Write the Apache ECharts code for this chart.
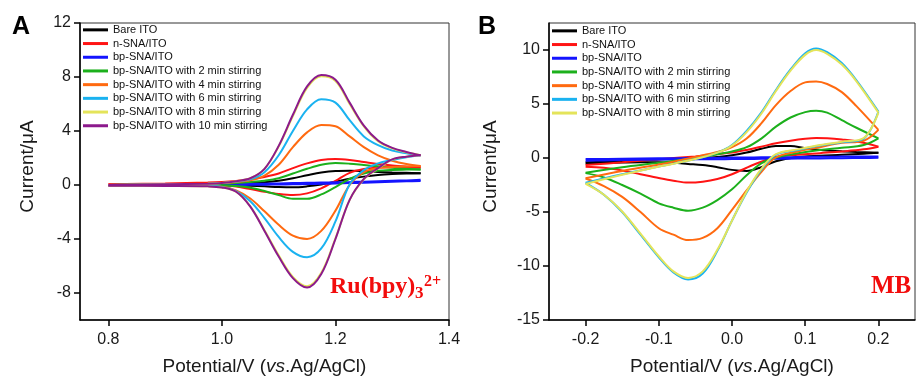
<!DOCTYPE html>
<html><head><meta charset="utf-8">
<script src="https://cdn.jsdelivr.net/npm/echarts@6/dist/echarts.min.js"></script>
<style>html,body{margin:0;padding:0;background:#fff}#c{width:916px;height:376px}</style>
</head><body><div id="c"></div>
<script>
// ---------- labels / categories ----------
const namesA = ['Bare ITO','n-SNA/ITO','bp-SNA/ITO','bp-SNA/ITO with 2 min stirring','bp-SNA/ITO with 4 min stirring','bp-SNA/ITO with 6 min stirring','bp-SNA/ITO with 8 min stirring','bp-SNA/ITO with 10 min stirring'];
const namesB = ['Bare ITO','n-SNA/ITO','bp-SNA/ITO','bp-SNA/ITO with 2 min stirring','bp-SNA/ITO with 4 min stirring','bp-SNA/ITO with 6 min stirring','bp-SNA/ITO with 8 min stirring'];
const colors = ['#000000','#ff1414','#1414ff','#1cb01c','#ff6a10','#1ab2f0','#e4e45a','#8c1a8c'];

const xTicksA = [0.8, 1.0, 1.2, 1.4];
const yTicksA = [-8, -4, 0, 4, 8, 12];
const xTicksB = [-0.2, -0.1, 0.0, 0.1, 0.2];
const yTicksB = [-15, -10, -5, 0, 5, 10];

// ---------- Panel A (Ru(bpy)3 2+) : potentials (V) ----------
const potA_fwd = [0.80, 0.90, 0.975, 1.00, 1.025, 1.05, 1.075, 1.10, 1.125, 1.15, 1.175, 1.20, 1.225, 1.25, 1.275, 1.30, 1.325, 1.35];
const potA_rev = [1.35, 1.325, 1.30, 1.275, 1.25, 1.225, 1.20, 1.175, 1.15, 1.125, 1.10, 1.075, 1.05, 1.025, 1.00, 0.975, 0.90, 0.80];
// currents (uA), forward scan
const A_bare_f = [0, 0.02, 0.04, 0.06, 0.09, 0.13, 0.2, 0.32, 0.5, 0.72, 0.92, 1.03, 1.05, 1.02, 0.97, 0.93, 0.9, 0.87];
const A_n_f    = [0.05, 0.12, 0.18, 0.22, 0.3, 0.42, 0.6, 0.85, 1.25, 1.6, 1.85, 1.92, 1.85, 1.7, 1.55, 1.45, 1.37, 1.3];
const A_bp_f   = [0, 0.03, 0.05, 0.06, 0.07, 0.08, 0.1, 0.12, 0.14, 0.16, 0.18, 0.2, 0.22, 0.25, 0.28, 0.31, 0.34, 0.38];
const A_s2_f   = [0, 0.05, 0.08, 0.1, 0.15, 0.22, 0.32, 0.5, 0.85, 1.2, 1.5, 1.63, 1.58, 1.48, 1.38, 1.28, 1.2, 1.15];
const A_s4_f   = [0, 0.05, 0.1, 0.15, 0.22, 0.35, 0.7, 1.5, 2.8, 3.9, 4.45, 4.35, 3.6, 2.8, 2.2, 1.8, 1.55, 1.4];
const A_s6_f   = [0, 0.05, 0.1, 0.15, 0.25, 0.42, 0.95, 2.2, 4.0, 5.6, 6.35, 6.1, 4.8, 3.6, 2.95, 2.55, 2.35, 2.2];
const A_s8_f   = [0, 0.05, 0.1, 0.15, 0.28, 0.5, 1.2, 2.85, 5.1, 7.2, 8.05, 7.7, 6.0, 4.35, 3.25, 2.72, 2.42, 2.2];
const A_s10_f  = [0, 0.05, 0.1, 0.15, 0.28, 0.5, 1.2, 2.9, 5.2, 7.3, 8.15, 7.8, 6.1, 4.4, 3.3, 2.75, 2.45, 2.2];
// currents (uA), reverse scan
const A_bare_r = [0.87, 0.85, 0.81, 0.74, 0.62, 0.46, 0.25, 0.04, -0.1, -0.17, -0.15, -0.1, -0.06, -0.03, -0.02, -0.01, -0.01, 0];
const A_n_r    = [1.3, 1.3, 1.32, 1.3, 1.18, 0.9, 0.3, -0.25, -0.62, -0.74, -0.66, -0.5, -0.3, -0.12, -0.02, 0.02, 0.03, 0.03];
const A_bp_r   = [0.3, 0.27, 0.24, 0.21, 0.17, 0.14, 0.11, 0.09, 0.07, 0.05, 0.04, 0.02, 0.01, 0.0, 0.0, -0.01, -0.02, -0.03];
const A_s2_r   = [1.15, 1.14, 1.12, 1.05, 0.85, 0.45, -0.15, -0.7, -1.02, -1.02, -0.75, -0.45, -0.2, -0.08, -0.03, -0.01, 0, 0];
const A_s4_r   = [1.4, 1.37, 1.33, 1.25, 0.95, 0.0, -1.9, -3.4, -4.0, -3.75, -2.95, -1.95, -1.0, -0.4, -0.13, -0.07, -0.05, -0.03];
const A_s6_r   = [2.2, 2.05, 1.85, 1.6, 1.1, 0.05, -2.7, -4.7, -5.35, -4.95, -3.85, -2.45, -1.2, -0.45, -0.15, -0.08, -0.05, -0.04];
const A_s8_r   = [2.2, 2.1, 1.88, 1.22, 0.42, -1.1, -3.95, -6.5, -7.5, -6.8, -5.2, -3.35, -1.58, -0.5, -0.18, -0.1, -0.07, -0.05];
const A_s10_r  = [2.2, 2.1, 1.9, 1.25, 0.45, -1.1, -4.0, -6.6, -7.6, -6.9, -5.3, -3.4, -1.6, -0.5, -0.18, -0.1, -0.07, -0.05];

// ---------- Panel B (MB) : potentials (V) ----------
const potB_fwd = [-0.2, -0.15, -0.1, -0.05, -0.02, 0.0, 0.02, 0.04, 0.06, 0.08, 0.10, 0.115, 0.13, 0.15, 0.17, 0.2];
const potB_rev = [0.2, 0.18, 0.15, 0.12, 0.09, 0.06, 0.04, 0.02, 0.0, -0.02, -0.04, -0.06, -0.08, -0.1, -0.125, -0.15, -0.175, -0.2];
const B_bare_f = [-0.4, -0.3, -0.15, 0.0, 0.1, 0.25, 0.5, 0.85, 1.1, 1.1, 0.9, 0.78, 0.7, 0.62, 0.55, 0.49];
const B_n_f    = [-0.65, -0.4, -0.12, 0.15, 0.35, 0.5, 0.75, 1.05, 1.36, 1.6, 1.78, 1.85, 1.83, 1.72, 1.55, 1.05];
const B_bp_f   = [-0.1, -0.07, -0.03, 0.0, 0.02, 0.04, 0.05, 0.06, 0.07, 0.08, 0.1, 0.11, 0.12, 0.13, 0.14, 0.15];
const B_s2_f   = [-1.36, -0.85, -0.45, 0.0, 0.35, 0.6, 1.0, 1.8, 2.9, 3.75, 4.25, 4.38, 4.2, 3.5, 2.8, 1.82];
const B_s4_f   = [-1.88, -1.2, -0.6, 0.1, 0.55, 1.0, 1.8, 3.2, 4.9, 6.2, 7.0, 7.08, 6.85, 6.1, 4.8, 2.6];
const B_s6_f   = [-2.3, -1.5, -0.8, -0.1, 0.5, 1.2, 2.5, 4.2, 6.3, 8.2, 9.7, 10.15, 9.8, 8.8, 7.2, 4.3];
const B_s8_f   = [-2.4, -1.55, -0.8, -0.1, 0.5, 1.15, 2.4, 4.1, 6.2, 8.1, 9.55, 10.0, 9.65, 8.65, 7.1, 4.2];
const B_bare_r = [0.49, 0.4, 0.3, 0.22, 0.1, -0.3, -0.85, -1.2, -1.1, -0.85, -0.65, -0.55, -0.45, -0.4, -0.4, -0.42, -0.45, -0.5];
const B_n_r    = [1.05, 0.8, 0.6, 0.45, 0.3, 0.1, -0.35, -0.9, -1.5, -1.95, -2.2, -2.28, -2.1, -1.85, -1.5, -1.15, -0.9, -0.8];
const B_bp_r   = [0.02, 0.0, -0.02, -0.04, -0.05, -0.07, -0.08, -0.09, -0.1, -0.11, -0.12, -0.13, -0.14, -0.15, -0.17, -0.19, -0.22, -0.25];
const B_s2_r   = [1.82, 1.2, 0.95, 0.75, 0.45, 0.05, -0.5, -1.6, -2.9, -3.9, -4.6, -4.88, -4.6, -4.2, -3.3, -2.5, -1.8, -1.4];
const B_s4_r   = [2.6, 1.6, 1.4, 1.0, 0.6, 0.05, -1.3, -3.0, -4.8, -6.5, -7.4, -7.6, -7.1, -6.5, -5.0, -3.6, -2.6, -1.9];
const B_s6_r   = [4.3, 1.8, 1.45, 1.15, 0.75, 0.3, -1.1, -3.2, -5.8, -8.6, -10.7, -11.25, -10.6, -9.2, -7.1, -5.0, -3.4, -2.3];
const B_s8_r   = [4.2, 1.85, 1.5, 1.2, 0.8, 0.35, -1.0, -3.1, -5.8, -8.5, -10.5, -11.1, -10.5, -9.1, -7.0, -4.95, -3.4, -2.4];

// ---------- build ----------
const A_f = [A_bare_f, A_n_f, A_bp_f, A_s2_f, A_s4_f, A_s6_f, A_s8_f, A_s10_f];
const A_r = [A_bare_r, A_n_r, A_bp_r, A_s2_r, A_s4_r, A_s6_r, A_s8_r, A_s10_r];
const B_f = [B_bare_f, B_n_f, B_bp_f, B_s2_f, B_s4_f, B_s6_f, B_s8_f];
const B_r = [B_bare_r, B_n_r, B_bp_r, B_s2_r, B_s4_r, B_s6_r, B_s8_r];

function pairs(xs, ys) { return xs.map((x, i) => [x, ys[i]]); }
function mk(name, color, data, idx) {
  return {
    type: 'line', name: name, xAxisIndex: idx, yAxisIndex: idx, data: data,
    showSymbol: false, symbol: 'none', smooth: 0.35,
    color: color, lineStyle: { color: color, width: 2 }, itemStyle: { color: color },
    silent: true, animation: false
  };
}
const series = [];
namesA.forEach((n, i) => {
  series.push(mk(n, colors[i], pairs(potA_fwd, A_f[i]), 0));
  series.push(mk(n, colors[i], pairs(potA_rev, A_r[i]), 0));
});
namesB.forEach((n, i) => {
  series.push(mk(n, colors[i], pairs(potB_fwd, B_f[i]), 1));
  series.push(mk(n, colors[i], pairs(potB_rev, B_r[i]), 1));
});

const FONT = '"Liberation Sans", Arial, sans-serif';
const SERIF = '"Liberation Serif", "Times New Roman", serif';
const labelStyle = { fontSize: 16, color: '#1a1a1a', fontFamily: FONT };
const axisLineStyle = { show: true, onZero: false, lineStyle: { color: '#000', width: 1.5 } };

function xAxis(idx, min, max, ticks) {
  return {
    type: 'value', gridIndex: idx, min: min, max: max,
    axisLine: axisLineStyle,
    axisTick: { show: true, inside: false, length: 6, lineStyle: { color: '#000', width: 1.5 }, customValues: ticks },
    axisLabel: Object.assign({ margin: 12, customValues: ticks, formatter: v => Number(v).toFixed(1) }, labelStyle),
    splitLine: { show: false },
    name: '{a|Potential/V (}{b|vs}{a|.Ag/AgCl)}', nameLocation: 'middle', nameGap: 37,
    nameTextStyle: { fontSize: 19, color: '#1a1a1a', fontFamily: FONT,
      rich: { a: { fontSize: 19, color: '#1a1a1a', fontFamily: FONT }, b: { fontSize: 19, color: '#1a1a1a', fontFamily: FONT, fontStyle: 'italic' } } }
  };
}
function yAxis(idx, min, max, ticks, gap) {
  return {
    type: 'value', gridIndex: idx, min: min, max: max,
    axisLine: axisLineStyle,
    axisTick: { show: true, inside: false, length: 6, lineStyle: { color: '#000', width: 1.5 }, customValues: ticks },
    axisLabel: Object.assign({ margin: 9, customValues: ticks, formatter: v => String(v) }, labelStyle),
    splitLine: { show: false },
    name: 'Current/\u03bcA', nameLocation: 'middle', nameGap: gap,
    nameTextStyle: { fontSize: 19, color: '#1a1a1a', fontFamily: FONT, padding: [0, 0, 0, 10] }
  };
}

function legend(names, left, top) {
  return {
    orient: 'vertical', left: left, top: top, padding: 0, itemGap: 0,
    itemWidth: 25, itemHeight: 3, selectedMode: false,
    data: names.map(n => ({ name: n, icon: 'rect' })),
    textStyle: { fontSize: 11, color: '#111', fontFamily: FONT, lineHeight: 13.7 }
  };
}

const chart = echarts.init(document.getElementById('c'), null, { renderer: 'canvas' });
chart.setOption({
  backgroundColor: '#ffffff',
  animation: false,
  grid: [
    { left: 80, top: 23, width: 369, height: 297, show: true, borderColor: '#333', borderWidth: 1, backgroundColor: 'transparent', containLabel: false, outerBoundsMode: 'none' },
    { left: 549, top: 23, width: 366, height: 297, show: true, borderColor: '#333', borderWidth: 1, backgroundColor: 'transparent', containLabel: false, outerBoundsMode: 'none' }
  ],
  xAxis: [xAxis(0, 0.75, 1.4, xTicksA), xAxis(1, -0.25, 0.25, xTicksB)],
  yAxis: [yAxis(0, -10, 12, yTicksA, 43), yAxis(1, -15, 12.5, yTicksB, 49)],
  legend: [legend(namesA, 83, 23), legend(namesB, 552, 24)],
  series: series,
  graphic: [
    { type: 'text', x: 12, y: 27, style: { text: 'A', font: 'bold 25px ' + FONT, fill: '#000', verticalAlign: 'middle' } },
    { type: 'text', x: 478, y: 27, style: { text: 'B', font: 'bold 25px ' + FONT, fill: '#000', verticalAlign: 'middle' } },
    { type: 'text', x: 330, y: 287, style: { text: 'Ru(bpy)', font: 'bold 24px ' + SERIF, fill: '#f20c0c', verticalAlign: 'middle' } },
    { type: 'text', x: 415, y: 294, style: { text: '3', font: 'bold 17px ' + SERIF, fill: '#f20c0c', verticalAlign: 'middle' } },
    { type: 'text', x: 424, y: 282, style: { text: '2+', font: 'bold 16px ' + SERIF, fill: '#f20c0c', verticalAlign: 'middle' } },
    { type: 'text', x: 871, y: 287, style: { text: 'MB', font: 'bold 25px ' + SERIF, fill: '#f20c0c', verticalAlign: 'middle' } }
  ]
});
</script>
</body></html>
